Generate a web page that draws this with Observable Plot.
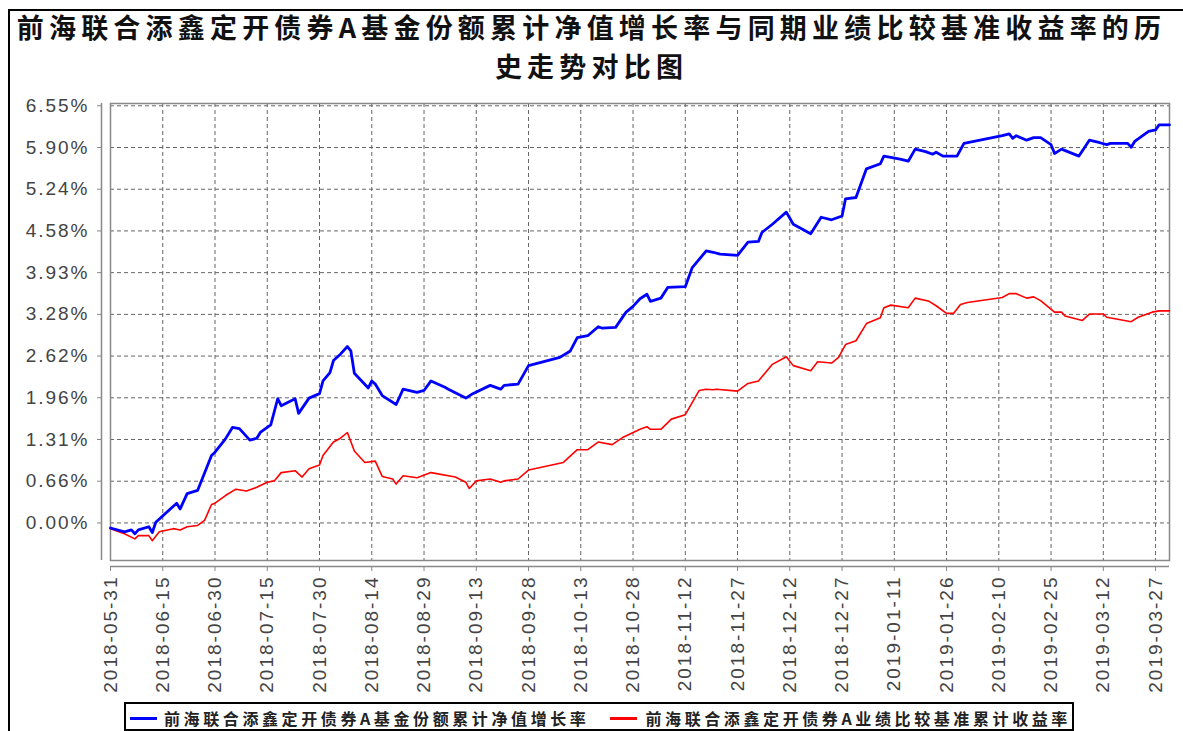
<!DOCTYPE html>
<html>
<head>
<meta charset="utf-8">
<script src="https://cdn.jsdelivr.net/npm/d3@7"></script>
<script src="https://cdn.jsdelivr.net/npm/@observablehq/plot@0.6"></script>
<style>
  html, body { margin: 0; padding: 0; background: #fff; }
  body { width: 1183px; height: 731px; overflow: hidden; position: relative; }
  #border { position: absolute; left: 8px; top: 9px; width: 1300px; height: 900px;
            border-left: 2px solid #000; border-top: 2px solid #000; }
  #title { position: absolute; left: 0; top: 7px; width: 1183px; text-align: center;
           font-family: "Noto Sans CJK SC", sans-serif; font-weight: 700; font-size: 27px;
           letter-spacing: 5.2px; line-height: 39px; color: #111; }
  #chart { position: absolute; left: 0; top: 92px; }
  #legend { position: absolute; left: 124px; top: 702px; width: 946px; height: 21px;
            padding-top: 4px; border: 2px solid #000; display: flex; align-items: center;
            font-family: "Noto Sans CJK SC", serif; font-weight: 700; font-size: 16px;
            letter-spacing: 3.6px; line-height: 21px; color: #222; }
  .sw { display: inline-block; width: 27px; height: 3px; }
</style>
</head>
<body>
<div id="border"></div>
<div id="title"></div>
<div id="chart"></div>
<div id="legend"></div>
<script>
const titleLines = ["前海联合添鑫定开债券A基金份额累计净值增长率与同期业绩比较基准收益率的历", "史走势对比图"];
const seriesNames = ["前海联合添鑫定开债券A基金份额累计净值增长率", "前海联合添鑫定开债券A业绩比较基准累计收益率"];
const seriesColors = ["#0000ff", "#ff0000"];

const yTickValues = [0, 0.655, 1.31, 1.965, 2.62, 3.275, 3.93, 4.585, 5.24, 5.895, 6.55];
const yTickLabels = ["0.00%", "0.66%", "1.31%", "1.96%", "2.62%", "3.28%", "3.93%", "4.58%", "5.24%", "5.90%", "6.55%"];
const xTickLabels = ["2018-05-31", "2018-06-15", "2018-06-30", "2018-07-15", "2018-07-30", "2018-08-14", "2018-08-29",
  "2018-09-13", "2018-09-28", "2018-10-13", "2018-10-28", "2018-11-12", "2018-11-27", "2018-12-12", "2018-12-27",
  "2019-01-11", "2019-01-26", "2019-02-10", "2019-02-25", "2019-03-12", "2019-03-27"];
const xDomain = ["2018-05-31", "2019-03-31"];
const yDomain = [-0.59, 6.586];

const blueDates = ["2018-05-31","2018-06-04","2018-06-06","2018-06-07","2018-06-08","2018-06-11","2018-06-12","2018-06-13",
  "2018-06-19","2018-06-20","2018-06-22","2018-06-25","2018-06-29","2018-06-30","2018-07-03","2018-07-05","2018-07-07",
  "2018-07-10","2018-07-12","2018-07-13","2018-07-16","2018-07-18","2018-07-19","2018-07-23","2018-07-24","2018-07-27",
  "2018-07-30","2018-07-31","2018-08-02","2018-08-03","2018-08-05","2018-08-07","2018-08-08","2018-08-09","2018-08-13",
  "2018-08-14","2018-08-15","2018-08-17","2018-08-21","2018-08-23","2018-08-27","2018-08-29","2018-08-31","2018-09-04",
  "2018-09-05","2018-09-10","2018-09-12","2018-09-17","2018-09-20","2018-09-21","2018-09-25","2018-09-28","2018-10-07",
  "2018-10-10","2018-10-12","2018-10-15","2018-10-18","2018-10-19","2018-10-23","2018-10-26","2018-10-28","2018-10-30",
  "2018-11-01","2018-11-02","2018-11-05","2018-11-07","2018-11-12","2018-11-14","2018-11-18","2018-11-20","2018-11-22",
  "2018-11-27","2018-11-30","2018-12-03","2018-12-04","2018-12-07","2018-12-11","2018-12-13","2018-12-18","2018-12-21",
  "2018-12-24","2018-12-27","2018-12-28","2018-12-31","2019-01-03","2019-01-07","2019-01-08","2019-01-10","2019-01-13",
  "2019-01-15","2019-01-17","2019-01-20","2019-01-22","2019-01-23","2019-01-25","2019-01-29","2019-01-31","2019-02-11",
  "2019-02-13","2019-02-14","2019-02-15","2019-02-18","2019-02-20","2019-02-22","2019-02-25","2019-02-26","2019-02-28",
  "2019-03-05","2019-03-08","2019-03-11","2019-03-13","2019-03-14","2019-03-19","2019-03-20","2019-03-21","2019-03-25",
  "2019-03-27","2019-03-28","2019-03-31"];
const blueValues = [-0.08,-0.14,-0.11,-0.17,-0.11,-0.06,-0.15,0.01,
  0.31,0.22,0.46,0.51,1.06,1.11,1.32,1.50,1.48,
  1.30,1.33,1.42,1.54,1.95,1.84,1.95,1.72,1.96,
  2.03,2.23,2.36,2.55,2.65,2.77,2.70,2.35,2.12,
  2.23,2.18,2.00,1.86,2.10,2.05,2.08,2.23,2.13,
  2.10,1.96,2.03,2.16,2.10,2.16,2.18,2.47,2.60,
  2.70,2.91,2.94,3.08,3.06,3.07,3.31,3.40,3.52,
  3.59,3.48,3.53,3.70,3.71,4.01,4.27,4.25,4.22,
  4.20,4.41,4.42,4.56,4.69,4.88,4.69,4.54,4.80,
  4.76,4.82,5.09,5.11,5.56,5.64,5.76,5.74,5.71,
  5.68,5.87,5.83,5.79,5.82,5.76,5.76,5.96,6.08,
  6.11,6.04,6.08,6.01,6.05,6.05,5.94,5.80,5.87,
  5.76,6.01,5.97,5.94,5.96,5.96,5.90,5.99,6.15,
  6.17,6.25,6.25];

const redDates = ["2018-05-31","2018-06-04","2018-06-07","2018-06-08","2018-06-11","2018-06-12","2018-06-14","2018-06-18",
  "2018-06-20","2018-06-22","2018-06-25","2018-06-27","2018-06-29","2018-06-30","2018-07-03","2018-07-06","2018-07-09",
  "2018-07-12","2018-07-15","2018-07-17","2018-07-19","2018-07-23","2018-07-25","2018-07-27","2018-07-30","2018-07-31",
  "2018-08-03","2018-08-05","2018-08-07","2018-08-09","2018-08-12","2018-08-15","2018-08-17","2018-08-20","2018-08-21",
  "2018-08-23","2018-08-27","2018-08-31","2018-09-07","2018-09-10","2018-09-11","2018-09-13","2018-09-17","2018-09-20",
  "2018-09-21","2018-09-25","2018-09-28","2018-10-08","2018-10-12","2018-10-15","2018-10-18","2018-10-22","2018-10-25",
  "2018-10-30","2018-11-01","2018-11-02","2018-11-05","2018-11-08","2018-11-12","2018-11-16","2018-11-18","2018-11-20",
  "2018-11-21","2018-11-27","2018-11-30","2018-12-03","2018-12-07","2018-12-11","2018-12-13","2018-12-18","2018-12-20",
  "2018-12-24","2018-12-26","2018-12-28","2018-12-31","2019-01-03","2019-01-07","2019-01-08","2019-01-10","2019-01-15",
  "2019-01-17","2019-01-21","2019-01-23","2019-01-26","2019-01-28","2019-01-30","2019-02-01","2019-02-11","2019-02-13",
  "2019-02-15","2019-02-18","2019-02-20","2019-02-22","2019-02-26","2019-02-28","2019-03-01","2019-03-06","2019-03-08",
  "2019-03-12","2019-03-13","2019-03-20","2019-03-22","2019-03-26","2019-03-28","2019-03-31"];
const redValues = [-0.09,-0.17,-0.25,-0.20,-0.20,-0.28,-0.14,-0.09,
  -0.11,-0.06,-0.04,0.04,0.29,0.31,0.43,0.53,0.50,
  0.56,0.64,0.66,0.79,0.82,0.72,0.85,0.91,1.06,
  1.27,1.33,1.42,1.13,0.95,0.97,0.73,0.69,0.61,
  0.74,0.71,0.79,0.72,0.64,0.54,0.66,0.69,0.64,
  0.66,0.69,0.83,0.95,1.15,1.15,1.27,1.23,1.34,
  1.47,1.51,1.47,1.47,1.63,1.70,2.08,2.10,2.09,
  2.10,2.07,2.19,2.23,2.49,2.61,2.47,2.39,2.53,
  2.51,2.60,2.80,2.86,3.13,3.22,3.38,3.42,3.38,
  3.53,3.48,3.41,3.29,3.29,3.43,3.46,3.54,3.60,
  3.60,3.53,3.55,3.49,3.31,3.31,3.25,3.18,3.28,
  3.28,3.23,3.16,3.23,3.31,3.33,3.33];

document.getElementById("title").innerHTML = titleLines.join("<br>");

const blue = blueDates.map((d, i) => ({date: new Date(d), value: blueValues[i]}));
const red = redDates.map((d, i) => ({date: new Date(d), value: redValues[i]}));
const xTicks = xTickLabels.map(d => new Date(d));
const xStart = new Date(xDomain[0]);
const fmtX = d => xTickLabels[xTicks.findIndex(t => +t === +d)];
const fmtY = d => yTickLabels[yTickValues.indexOf(d)];

const gridStyle = {stroke: "#666", strokeOpacity: 1, strokeWidth: 1, strokeDasharray: "4,3"};

const plot = Plot.plot({
  width: 1183,
  height: 608,
  marginLeft: 110,
  marginRight: 14,
  marginTop: 11,
  marginBottom: 140,
  style: {fontFamily: "'Liberation Sans', Arial, sans-serif", fontSize: "19px", color: "#444", background: "transparent", letterSpacing: "2px"},
  x: {type: "utc", domain: xDomain.map(d => new Date(d))},
  y: {domain: yDomain},
  marks: [
    Plot.gridX(xTicks, gridStyle),
    Plot.gridY(yTickValues, gridStyle),
    Plot.frame({stroke: "#888", strokeWidth: 1.5}),
    Plot.ruleX([xStart], {dx: -9, stroke: "#888", strokeWidth: 1.5}),
    Plot.ruleY([yDomain[0]], {dy: 6, stroke: "#888", strokeWidth: 1.5}),
    Plot.axisY(yTickValues, {tickFormat: fmtY, tickSize: 4, tickPadding: 8, dx: -9, stroke: "#888", label: null}),
    Plot.axisX(xTicks, {tickFormat: fmtX, tickRotate: -90, tickSize: 5, tickPadding: 4, dy: 6, stroke: "#888", label: null}),
    Plot.line(red, {x: "date", y: "value", stroke: seriesColors[1], strokeWidth: 1.6}),
    Plot.line(blue, {x: "date", y: "value", stroke: seriesColors[0], strokeWidth: 2.8})
  ]
});
document.getElementById("chart").appendChild(plot);

const legend = document.getElementById("legend");
seriesNames.forEach((name, i) => {
  const sw = document.createElement("span");
  sw.className = "sw";
  sw.style.background = seriesColors[i];
  sw.style.marginLeft = i === 0 ? "4px" : "21px";
  const tx = document.createElement("span");
  tx.textContent = name;
  tx.style.marginLeft = i === 0 ? "7px" : "8px";
  legend.appendChild(sw);
  legend.appendChild(tx);
});
</script>
</body>
</html>
